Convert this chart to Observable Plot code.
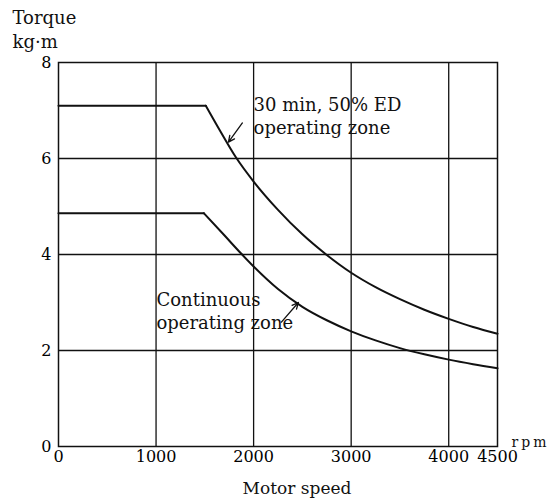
<!DOCTYPE html>
<html>
<head>
<meta charset="utf-8">
<script src="https://cdn.jsdelivr.net/npm/d3@7"></script>
<script src="https://cdn.jsdelivr.net/npm/@observablehq/plot@0.6"></script>
<style>
  html, body { margin: 0; padding: 0; background: #fff; }
  #chart { width: 558px; height: 501px; }
</style>
</head>
<body>
<div id="chart"></div>
<script>
// ---- data ----
const speedTicks = [0, 1000, 2000, 3000, 4000, 4500];
const torqueTicks = [0, 2, 4, 6, 8];
const gridSpeeds = [1000, 2000, 3000, 4000];
const gridTorques = [2, 4, 6];

// 30 min, 50% ED operating zone boundary (index 1 = knee)
const speed30 = [0, 1510, 1650, 1820, 2000, 2250, 2500, 2750, 3000, 3250, 3500, 3750, 4000, 4250, 4500];
const torque30 = [7.1, 7.1, 6.6, 6.02, 5.52, 4.93, 4.42, 3.99, 3.62, 3.32, 3.07, 2.85, 2.66, 2.49, 2.35];

// Continuous operating zone boundary (index 1 = knee)
const speedCont = [0, 1490, 1700, 1872, 2000, 2250, 2500, 2750, 3000, 3250, 3500, 3750, 4000, 4250, 4500];
const torqueCont = [4.86, 4.86, 4.4, 4.02, 3.75, 3.28, 2.91, 2.63, 2.4, 2.21, 2.05, 1.92, 1.81, 1.715, 1.63];

// annotations (data coordinates)
const labelTexts = ["30 min, 50% ED\noperating zone", "Continuous\noperating zone"];
const labelSpeed = [2000, 1004];
const labelTorque = [6.9, 2.84];
const arrowFromSpeed = [1885, 2285];
const arrowFromTorque = [6.74, 2.59];
const arrowToSpeed = [1742, 2459];
const arrowToTorque = [6.34, 3.0];

// ---- build tables: flat part (straight) and falling part (smooth) ----
function segments(name, speeds, torques) {
  const flat = speeds.slice(0, 2).map((s, i) => ({seg: name + "-flat", speed: s, torque: torques[i]}));
  const fall = speeds.slice(1).map((s, i) => ({seg: name + "-fall", speed: s, torque: torques[i + 1]}));
  return {flat, fall};
}
const a = segments("30min", speed30, torque30);
const b = segments("cont", speedCont, torqueCont);
const flatRows = [...a.flat, ...b.flat];
const fallRows = [...a.fall, ...b.fall];

const labels = labelTexts.map((t, i) => ({text: t, speed: labelSpeed[i], torque: labelTorque[i]}));
const arrows = arrowFromSpeed.map((s, i) => ({
  x1: s, y1: arrowFromTorque[i], x2: arrowToSpeed[i], y2: arrowToTorque[i]
}));

const serif = "'DejaVu Serif', 'Liberation Serif', serif";

const chart = Plot.plot({
  width: 558,
  height: 501,
  marginLeft: 58,
  marginRight: 61,
  marginTop: 62,
  marginBottom: 55,
  style: {fontFamily: serif, fontSize: "16px", background: "white", color: "black"},
  x: {domain: [0, 4500]},
  y: {domain: [0, 8]},
  marks: [
    Plot.gridX(gridSpeeds, {stroke: "#111", strokeOpacity: 1, strokeWidth: 1.3}),
    Plot.gridY(gridTorques, {stroke: "#111", strokeOpacity: 1, strokeWidth: 1.5}),
    Plot.frame({stroke: "#111", strokeWidth: 1.5}),
    Plot.axisX({ticks: speedTicks, tickSize: 0, tickPadding: 4, tickFormat: d3.format("d"), label: null, fontSize: 16}),
    Plot.axisY({ticks: torqueTicks, tickSize: 0, tickPadding: 7, tickFormat: d3.format("d"), label: null, fontSize: 16}),
    Plot.line(flatRows, {x: "speed", y: "torque", z: "seg", stroke: "#111", strokeWidth: 2}),
    Plot.line(fallRows, {x: "speed", y: "torque", z: "seg", stroke: "#111", strokeWidth: 2, curve: "monotone-x"}),
    Plot.arrow(arrows, {x1: "x1", y1: "y1", x2: "x2", y2: "y2", stroke: "#111", strokeWidth: 1.3, headLength: 8, headAngle: 50}),
    Plot.text(labels, {x: "speed", y: "torque", text: "text", textAnchor: "start", lineAnchor: "middle", lineHeight: 1.25, fontSize: 18, fill: "#111"}),
    Plot.text(["Torque"], {frameAnchor: "top-left", dx: -46, dy: -44, textAnchor: "start", lineAnchor: "middle", fontSize: 18, fill: "#111"}),
    Plot.text(["kg·m"], {frameAnchor: "top-left", dx: -46, dy: -20, textAnchor: "start", lineAnchor: "middle", fontSize: 18, fill: "#111"}),
    Plot.text(["rpm"], {frameAnchor: "bottom-right", dx: 33, dy: -4, textAnchor: "middle", lineAnchor: "middle", fontSize: 14, fill: "#111"}),
    Plot.text(["Motor speed"], {frameAnchor: "bottom", dx: 19, dy: 42, textAnchor: "middle", lineAnchor: "middle", fontSize: 17, fill: "#111"})
  ]
});

d3.select(chart).selectAll("text").filter(function() { return this.textContent === "rpm"; })
  .attr("letter-spacing", "3px");

document.getElementById("chart").appendChild(chart);
</script>
</body>
</html>
